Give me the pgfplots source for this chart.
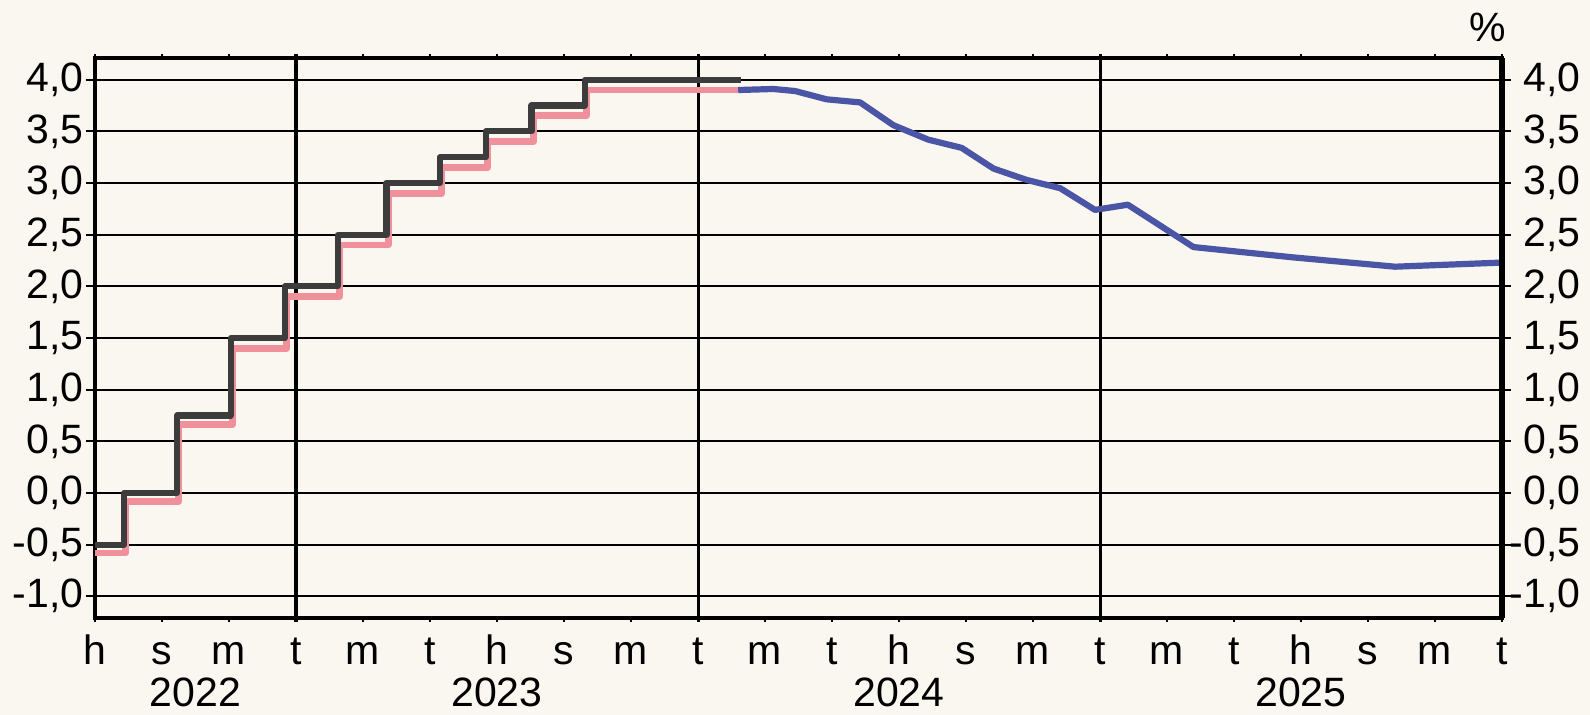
\documentclass[border=0pt]{standalone}
\usepackage{pgfplots}
\pgfplotsset{compat=1.18}
\usepackage{fontspec}
\setmainfont{Liberation Sans}
\definecolor{bg}{HTML}{FAF6F0}
\definecolor{dep}{HTML}{3C3C3C}
\definecolor{estr}{HTML}{F0909A}
\definecolor{fut}{HTML}{4A55A6}
\begin{document}
\begin{tikzpicture}
\path[use as bounding box, fill=bg] (-47.5pt,-48.5pt) rectangle (747.5pt,309pt);
\begin{axis}[
  name=main,
  at={(0,0)}, anchor=south west,
  scale only axis, width=703.5pt, height=280pt,
  xmin=0, xmax=42, ymin=-1.21, ymax=4.21,
  clip=false,
  axis line style={line width=2pt, black},
  tick align=outside,
  tick style={black, line width=0.9pt},
  major tick length=4.5pt,
  xtick={0,2,...,42},
  xticklabels={h,s,m,t,m,t,h,s,m,t,m,t,h,s,m,t,m,t,h,s,m,t},
  xtick style={/pgfplots/major tick length=2pt},
  extra x ticks={6,18,30},
  extra x tick labels={},
  extra x tick style={grid=major, major grid style={black, line width=1.5pt}, tick style={/pgfplots/major tick length=3pt, line width=1.5pt}},
  ytick={-1,-0.5,0,0.5,1,1.5,2,2.5,3,3.5,4},
  yticklabels={{-1,0},{-0,5},{0,0},{0,5},{1,0},{1,5},{2,0},{2,5},{3,0},{3,5},{4,0}},
  ytick pos=left,
  ymajorgrids,
  major grid style={black, line width=0.9pt},
  every tick label/.append style={font=\fontsize{20.5}{24}\selectfont, text=black},
  xticklabel style={anchor=base, inner sep=0pt, yshift=-19pt},
  yticklabel style={anchor=east, inner sep=0pt, xshift=-1pt},
]
\addplot[const plot, color=estr, line width=3.4pt, line join=round] coordinates {
(0,-0.58) (0.92,-0.08) (2.5,0.66) (4.1,1.40) (5.72,1.90) (7.3,2.40) (8.75,2.90)
(10.35,3.15) (11.72,3.40) (13.08,3.65) (14.68,3.90) (19.2,3.90)};
\addplot[const plot, color=dep, line width=3.1pt, line join=round] coordinates {
(0,-0.5) (0.87,0) (2.45,0.75) (4.05,1.5) (5.67,2.0) (7.25,2.5) (8.7,3.0)
(10.3,3.25) (11.67,3.5) (13.03,3.75) (14.63,4.0) (19.27,4.0)};
\addplot[color=fut, line width=3.1pt, line join=round] coordinates {
(19.2,3.90) (20.25,3.91) (20.9,3.89) (21.84,3.81) (22.84,3.78) (23.83,3.56)
(24.87,3.42) (25.87,3.34) (26.82,3.14) (27.81,3.03) (28.81,2.95) (29.85,2.74)
(30.83,2.79) (32.79,2.38) (35.77,2.28) (38.81,2.19) (42,2.23)};
\node[anchor=base, inner sep=0pt, font=\fontsize{20.5}{24}\selectfont] at (rel axis cs:0.0714,0) [yshift=-44.5pt] {2022};
\node[anchor=base, inner sep=0pt, font=\fontsize{20.5}{24}\selectfont] at (rel axis cs:0.2857,0) [yshift=-44.5pt] {2023};
\node[anchor=base, inner sep=0pt, font=\fontsize{20.5}{24}\selectfont] at (rel axis cs:0.5714,0) [yshift=-44.5pt] {2024};
\node[anchor=base, inner sep=0pt, font=\fontsize{20.5}{24}\selectfont] at (rel axis cs:0.8571,0) [yshift=-44.5pt] {2025};
\node[anchor=base, inner sep=0pt, font=\fontsize{20.5}{24}\selectfont] at (rel axis cs:1,1) [xshift=-7pt, yshift=8pt] {\%};
\end{axis}
\begin{axis}[
  at={(0,0)}, anchor=south west,
  scale only axis, width=703.5pt, height=280pt,
  xmin=0, xmax=42, ymin=-1.21, ymax=4.21,
  axis x line=none, axis y line*=right,
  axis line style={line width=3pt, black},
  tick align=outside,
  tick style={black, line width=0.9pt},
  major tick length=4.5pt,
  ytick={-1,-0.5,0,0.5,1,1.5,2,2.5,3,3.5,4},
  yticklabels={{-1,0},{-0,5},{0,0},{0,5},{1,0},{1,5},{2,0},{2,5},{3,0},{3,5},{4,0}},
  every tick label/.append style={font=\fontsize{20.5}{24}\selectfont, text=black},
  yticklabel style={anchor=east, inner sep=0pt, xshift=35pt},
]
\end{axis}
\end{tikzpicture}
\end{document}
